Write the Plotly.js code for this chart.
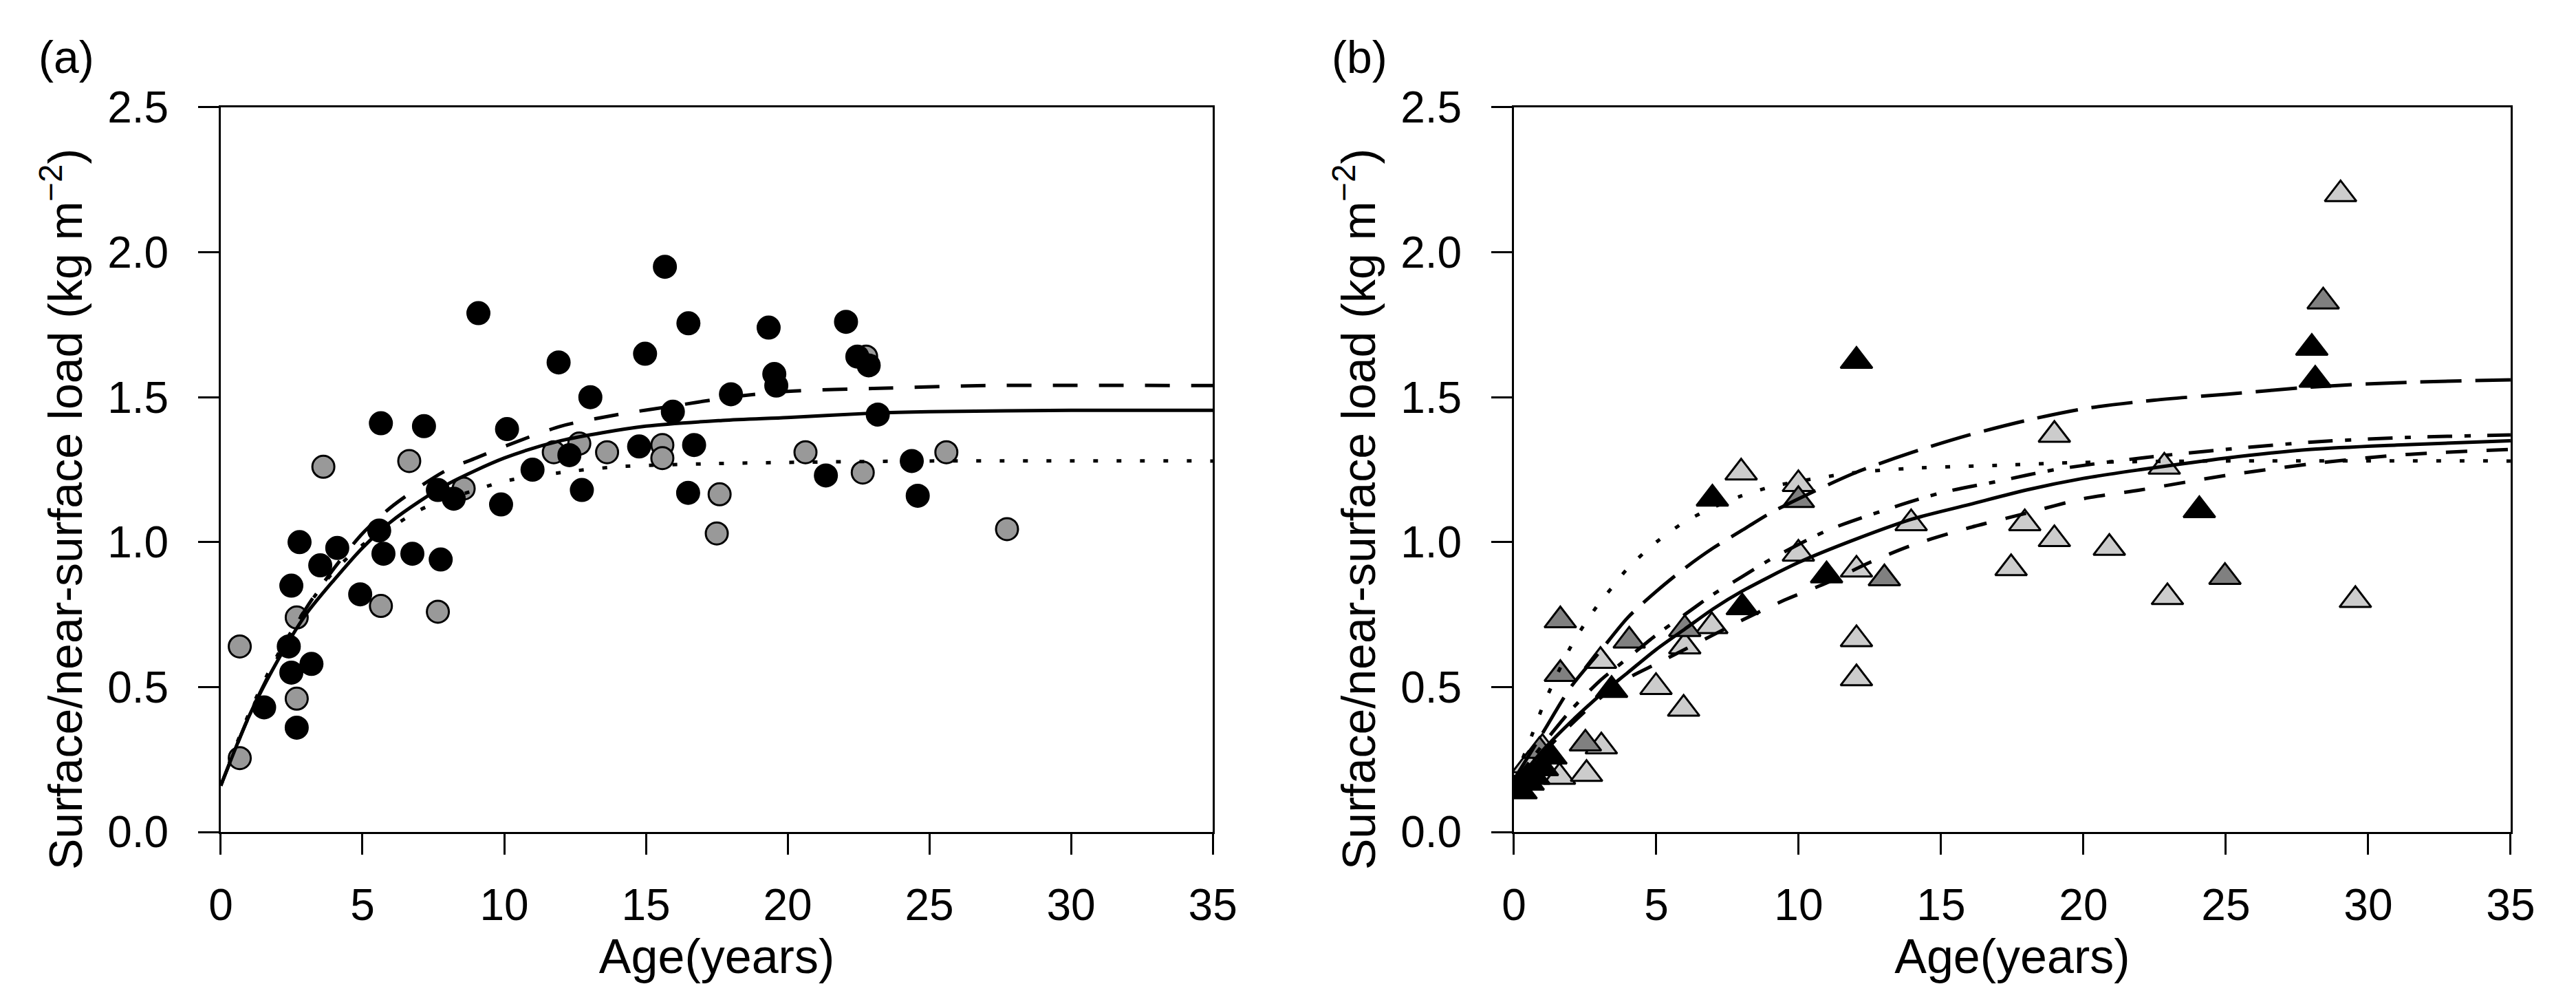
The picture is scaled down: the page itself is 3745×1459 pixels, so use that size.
<!DOCTYPE html>
<html>
<head>
<meta charset="utf-8">
<script src="https://cdn.plot.ly/plotly-3.0.1.min.js"></script>
<style>
  html, body { margin: 0; padding: 0; background: #fff; }
  #chart { width: 3745px; height: 1459px; }
</style>
</head>
<body>
<div id="chart"></div>
<script>
// ---- panel (a): circles ----
const ageBlackA = [1.53, 2.40, 2.49, 2.49, 2.68, 2.78, 3.20, 3.51, 4.11, 4.92, 5.59, 5.65, 5.74, 6.76, 7.17, 7.66,
  7.76, 8.22, 9.09, 9.89, 10.10, 11.0, 11.92, 12.3, 12.74, 13.04, 14.76, 14.97, 15.67, 15.95, 16.49, 16.5,
  16.7, 18.0, 19.33, 19.53, 19.6, 21.35, 22.06, 22.46, 22.86, 23.18, 24.38, 24.59];
const loadBlackA = [0.43, 0.64, 0.55, 0.85, 0.36, 1.00, 0.58, 0.92, 0.98, 0.82, 1.04, 1.41, 0.96, 0.96, 1.40, 1.18,
  0.94, 1.15, 1.79, 1.13, 1.39, 1.25, 1.62, 1.30, 1.18, 1.50, 1.33, 1.65, 1.95, 1.45, 1.17, 1.755,
  1.335, 1.51, 1.74, 1.58, 1.54, 1.23, 1.76, 1.64, 1.61, 1.44, 1.28, 1.16];

const ageGrayA = [0.67, 0.67, 2.68, 2.68, 3.62, 5.65, 6.65, 7.66, 8.57, 11.75, 12.65, 13.63, 15.58, 15.58,
  17.5, 17.6, 20.63, 22.65, 22.77, 25.6, 27.74];
const loadGrayA = [0.64, 0.255, 0.74, 0.46, 1.26, 0.78, 1.28, 0.76, 1.185, 1.31, 1.34, 1.31, 1.335, 1.29,
  1.03, 1.165, 1.31, 1.24, 1.64, 1.31, 1.045];

// fitted curves of panel (a)
const ageSolidA = [0, 1, 2, 3, 4, 5, 6, 7, 8, 10, 12, 15, 17.7, 20, 23, 25, 30, 35];
const loadSolidA = [0.16, 0.40, 0.59, 0.75, 0.87, 0.98, 1.07, 1.14, 1.20, 1.29, 1.35, 1.40, 1.42, 1.43, 1.445, 1.45, 1.455, 1.455];

const ageDashA = [0, 1, 2, 3, 4, 5, 6, 7, 8, 9, 10, 12, 14, 16, 18, 20, 23, 27, 35];
const loadDashA = [0.16, 0.40, 0.60, 0.77, 0.91, 1.03, 1.12, 1.19, 1.25, 1.29, 1.33, 1.40, 1.44, 1.47, 1.50, 1.52, 1.53, 1.54, 1.54];

const ageDotA = [0, 1, 2, 3, 4, 5, 6, 7, 8, 9, 10, 12, 14, 17, 20, 25, 35];
const loadDotA = [0.16, 0.41, 0.61, 0.77, 0.90, 0.99, 1.05, 1.11, 1.15, 1.18, 1.21, 1.24, 1.26, 1.27, 1.275, 1.28, 1.28];

// ---- panel (b): triangles ----
const ageBlackB = [0.25, 0.5, 0.7, 1.0, 1.3, 3.43, 6.97, 8.02, 10.98, 12.03, 24.07, 28.02, 28.14];
const loadBlackB = [0.14, 0.17, 0.19, 0.22, 0.26, 0.49, 1.15, 0.775, 0.885, 1.625, 1.11, 1.67, 1.56];

const ageDarkB = [0.9, 1.63, 1.63, 2.51, 4.05, 6.0, 9.99, 13.01, 24.97, 28.42];
const loadDarkB = [0.28, 0.73, 0.545, 0.305, 0.66, 0.70, 1.145, 0.875, 0.88, 1.83];

const ageLightB = [0.5, 1.0, 1.6, 2.55, 3.04, 3.07, 4.99, 5.96, 6.0, 6.95, 7.98, 9.99, 9.99, 12.03, 12.03, 12.03,
  13.95, 17.46, 17.94, 18.98, 18.98, 20.91, 22.84, 22.95, 29.03, 29.55];
const loadLightB = [0.23, 0.29, 0.19, 0.20, 0.59, 0.295, 0.50, 0.425, 0.64, 0.71, 1.24, 1.20, 0.96, 0.905, 0.665, 0.53,
  1.065, 0.91, 1.065, 1.01, 1.37, 0.98, 1.26, 0.81, 2.20, 0.80];

// fitted curves of panel (b)
const ageLongDashB = [0, 1, 2, 3, 4, 5, 6, 7, 8, 9, 10, 12, 14, 16, 18, 20, 22.5, 25, 28, 31, 35];
const loadLongDashB = [0.18, 0.34, 0.50, 0.62, 0.74, 0.83, 0.91, 0.98, 1.04, 1.10, 1.15, 1.24, 1.31, 1.37, 1.42, 1.46, 1.49, 1.51, 1.535, 1.55, 1.56];

const ageDashDotB = [0, 1, 2, 3, 4, 5, 6, 7, 8, 9, 11, 13, 15, 17, 19, 22, 25, 28, 31, 35];
const loadDashDotB = [0.17, 0.30, 0.42, 0.52, 0.60, 0.68, 0.75, 0.82, 0.88, 0.94, 1.04, 1.11, 1.17, 1.21, 1.25, 1.29, 1.32, 1.345, 1.36, 1.37];

const ageSolidB = [0, 1, 2, 3, 4, 5, 6, 7, 8, 10, 12, 14, 16, 18, 20, 22, 25, 28, 31, 35];
const loadSolidB = [0.16, 0.28, 0.38, 0.47, 0.55, 0.63, 0.70, 0.77, 0.83, 0.93, 1.01, 1.08, 1.13, 1.18, 1.22, 1.25, 1.29, 1.32, 1.335, 1.35];

const ageDashB = [0, 1, 2, 3, 4, 5, 6, 7, 8, 9.5, 11, 12.5, 14, 16, 18, 20, 22, 25, 28, 31, 35];
const loadDashB = [0.16, 0.27, 0.37, 0.46, 0.53, 0.58, 0.63, 0.68, 0.73, 0.80, 0.86, 0.93, 0.99, 1.05, 1.10, 1.15, 1.18, 1.23, 1.27, 1.30, 1.32];

const ageDotB = [0, 0.5, 1, 1.5, 2, 2.5, 3, 3.5, 4, 5, 6, 7, 8, 9, 10, 12, 14, 17, 20, 25, 35];
const loadDotB = [0.18, 0.30, 0.43, 0.54, 0.64, 0.72, 0.79, 0.85, 0.91, 1.00, 1.07, 1.12, 1.16, 1.19, 1.21, 1.24, 1.255, 1.265, 1.275, 1.28, 1.28];

const xTicks = [0, 5, 10, 15, 20, 25, 30, 35];
const yTicks = [0, 0.5, 1.0, 1.5, 2.0, 2.5];
const panelLabels = ['(a)', '(b)'];
const yTitle = 'Surface/near-surface load (kg m<sup>\u22122</sup>)';

const FONT = '"Liberation Sans", Arial, sans-serif';
const LW = 5;

function pts(x, y, xa, ya, symbol, fill, size) {
  return {
    x: x, y: y, xaxis: xa, yaxis: ya, type: 'scatter', mode: 'markers',
    marker: { symbol: symbol, size: size, color: fill, line: { color: '#000', width: 3 } },
    hoverinfo: 'x+y'
  };
}
function curve(x, y, xa, ya, dash) {
  return {
    x: x, y: y, xaxis: xa, yaxis: ya, type: 'scatter', mode: 'lines',
    line: { color: '#000', width: LW, dash: dash, shape: 'spline', smoothing: 0.8 },
    hoverinfo: 'skip'
  };
}

const traces = [
  pts(ageGrayA, loadGrayA, 'x', 'y', 'circle', '#999999', 32),
  pts(ageBlackA, loadBlackA, 'x', 'y', 'circle', '#000000', 32),
  curve(ageSolidA, loadSolidA, 'x', 'y', 'solid'),
  curve(ageDashA, loadDashA, 'x', 'y', '36px,31px'),
  curve(ageDotA, loadDotA, 'x', 'y', '7px,27px'),

  pts(ageLightB, loadLightB, 'x2', 'y2', 'triangle-up', '#cccccc', 40),
  pts(ageDarkB, loadDarkB, 'x2', 'y2', 'triangle-up', '#808080', 40),
  pts(ageBlackB, loadBlackB, 'x2', 'y2', 'triangle-up', '#000000', 40),
  curve(ageLongDashB, loadLongDashB, 'x2', 'y2', '60px,20px'),
  curve(ageDashDotB, loadDashDotB, 'x2', 'y2', '36px,18px,9px,24px'),
  curve(ageSolidB, loadSolidB, 'x2', 'y2', 'solid'),
  curve(ageDashB, loadDashB, 'x2', 'y2', '31px,28px'),
  curve(ageDotB, loadDotB, 'x2', 'y2', '7px,27px')
];

function xAxis(domain, anchor) {
  return {
    domain: domain, anchor: anchor, range: [0, 35], tickvals: xTicks,
    ticks: 'outside', ticklen: 30, tickwidth: 3, tickcolor: '#000',
    showline: true, linewidth: 3, linecolor: '#000', mirror: true,
    showgrid: false, zeroline: false, ticklabelstandoff: 18,
    tickfont: { family: FONT, size: 64, color: '#000' },
    title: { text: 'Age(years)', font: { family: FONT, size: 70, color: '#000' }, standoff: 12 }
  };
}
function yAxis(domain, anchor) {
  return {
    domain: domain, anchor: anchor, range: [0, 2.5], tickvals: yTicks, tickformat: '.1f',
    ticks: 'outside', ticklen: 30, tickwidth: 3, tickcolor: '#000',
    showline: true, linewidth: 3, linecolor: '#000', mirror: true,
    showgrid: false, zeroline: false, ticklabelstandoff: 30,
    tickfont: { family: FONT, size: 64, color: '#000' }
  };
}

// panel (b) sits 1880 px to the right of panel (a)
const W = 3745, H = 1459, SHIFT = 1880 / W;
const yDom = [0.1713, 0.8931];

const annotations = [];
[0, 1].forEach(i => {
  annotations.push({
    text: panelLabels[i], xref: 'paper', yref: 'paper', x: 96 / W + i * SHIFT, y: 1 - 83 / H,
    xanchor: 'center', yanchor: 'middle', showarrow: false,
    font: { family: FONT, size: 66, color: '#000' }
  });
  annotations.push({
    text: yTitle, xref: 'paper', yref: 'paper', x: 90 / W + i * SHIFT, y: 1 - 740 / H,
    xanchor: 'center', yanchor: 'middle', textangle: -90, showarrow: false,
    font: { family: FONT, size: 68, color: '#000' }
  });
});

const layout = {
  width: W, height: H,
  margin: { l: 0, r: 0, t: 0, b: 0 },
  paper_bgcolor: '#fff', plot_bgcolor: '#fff',
  showlegend: false,
  xaxis: xAxis([0.0857, 0.4708], 'y'),
  yaxis: yAxis(yDom, 'x'),
  xaxis2: xAxis([0.5877, 0.9746], 'y2'),
  yaxis2: yAxis(yDom, 'x2'),
  annotations: annotations
};

Plotly.newPlot('chart', traces, layout, { displayModeBar: false, staticPlot: true });
</script>
</body>
</html>
